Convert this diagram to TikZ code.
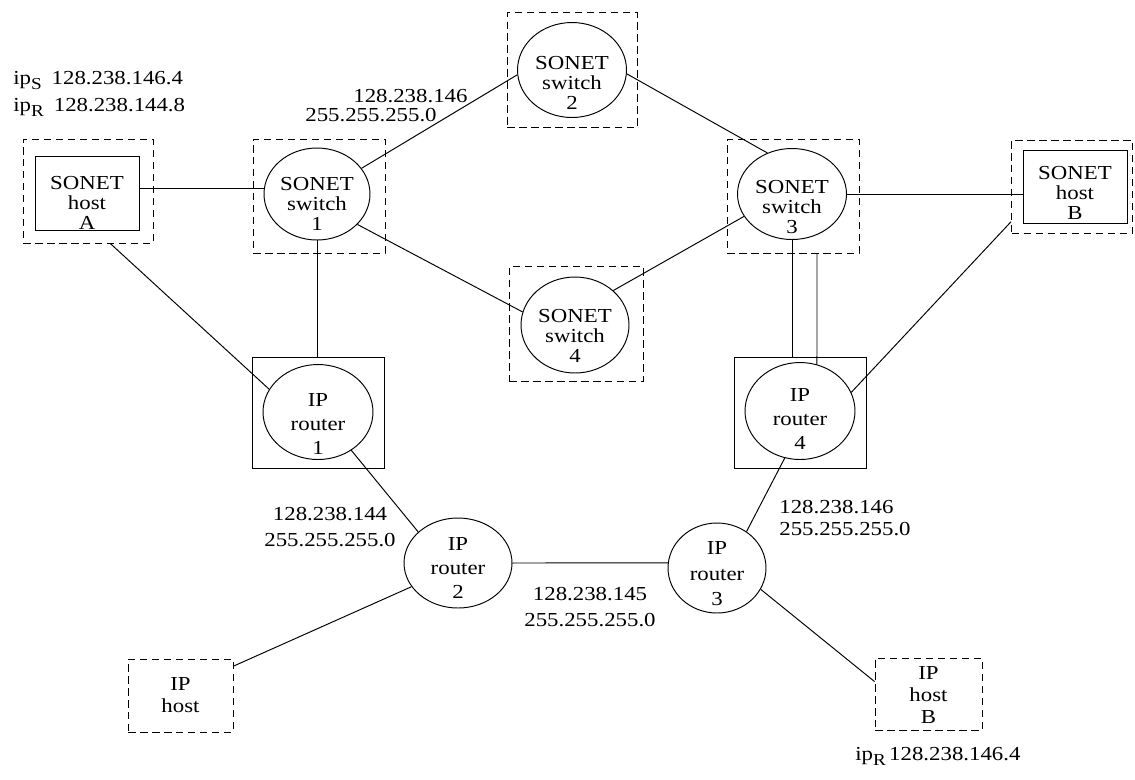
\documentclass[tikz,border=0pt]{standalone}
\usepackage{fontspec}
\setmainfont[FakeStretch=1.15]{Liberation Serif}
\usetikzlibrary{shapes.geometric, positioning}

\newcommand{\ipsub}[1]{\raisebox{-0.55ex}{\fontsize{9.5}{9.5}\selectfont #1}}

\tikzset{
  sw/.style={ellipse, draw, inner sep=0pt, line width=0.55pt},
  sbox/.style={rectangle, draw, inner sep=0pt, line width=0.55pt},
  dbox/.style={rectangle, draw, inner sep=0pt, line width=0.55pt, dash pattern=on 0.15cm off 0.09cm},
  txt/.style={align=center, inner sep=0pt, font=\fontsize{11.3}{11.5}\selectfont},
  lbl/.style={inner sep=0pt, font=\fontsize{11.3}{14.7}\selectfont},
  link/.style={line width=0.55pt}
}

\begin{document}
\begin{tikzpicture}[x=0.02cm, y=-0.02cm]
  \useasboundingbox (0,0) rectangle (1135,779);

  % 1. SONET host A, B
  \node[dbox, minimum width=2.6cm, minimum height=2.08cm] (hAd) at (88,191) {};
  \node[sbox, minimum width=2.08cm, minimum height=1.48cm] (hA) at (87,193) {};
  \node[txt] (hAt) at ([yshift=-0.2cm]hA) {SONET\\host\\A};
  \node[dbox, minimum width=2.42cm, minimum height=1.86cm] (hBd) at (1072,186.5) {};
  \node[sbox, minimum width=2.08cm, minimum height=1.46cm] (hB) at (1075,186.5) {};
  \node[txt] (hBt) at ([yshift=-0.13cm]hB) {SONET\\host\\B};

  % 2. SONET switch 1..4
  \node[dbox, minimum width=2.64cm, minimum height=2.28cm] (s1d) at (319,196) {};
  \node[sw, minimum width=2.12cm, minimum height=1.84cm] (s1) at (317,194) {};
  \node[txt] (s1t) at ([yshift=-0.2cm]s1) {SONET\\switch\\1};
  \node[dbox, minimum width=2.6cm, minimum height=2.3cm] (s2d) at (572,70) {};
  \node[sw, minimum width=2.18cm, minimum height=1.9cm] (s2) at (572,70) {};
  \node[txt] (s2t) at ([yshift=-0.26cm]s2) {SONET\\switch\\2};
  \node[dbox, minimum width=2.64cm, minimum height=2.28cm] (s3d) at (793,196) {};
  \node[sw, minimum width=2.18cm, minimum height=1.82cm] (s3) at (792,194) {};
  \node[txt] (s3t) at ([yshift=-0.26cm]s3) {SONET\\switch\\3};
  \node[dbox, minimum width=2.68cm, minimum height=2.3cm] (s4d) at (576,324) {};
  \node[sw, minimum width=2.16cm, minimum height=1.92cm] (s4) at (575,325) {};
  \node[txt] (s4t) at ([yshift=-0.22cm]s4) {SONET\\switch\\4};

  % 3. IP router 1..4
  \node[sbox, minimum width=2.64cm, minimum height=2.22cm] (r1b) at (318,412.5) {};
  \node[sw, minimum width=2.2cm, minimum height=1.9cm] (r1) at (318,412) {};
  \node[txt, font=\fontsize{11.3}{13.5}\selectfont] (r1t) at ([yshift=-0.24cm]r1) {IP\\router\\1};
  \node[sbox, minimum width=2.64cm, minimum height=2.22cm] (r4b) at (800,412.5) {};
  \node[sw, minimum width=2.2cm, minimum height=1.94cm] (r4) at (800,411) {};
  \node[txt, font=\fontsize{11.3}{13.5}\selectfont] (r4t) at ([yshift=-0.16cm]r4) {IP\\router\\4};
  \node[sw, minimum width=2.16cm, minimum height=1.8cm] (r2) at (458,563) {};
  \node[txt, font=\fontsize{11.3}{13.5}\selectfont] (r2t) at ([yshift=-0.1cm]r2) {IP\\router\\2};
  \node[sw, minimum width=1.96cm, minimum height=1.8cm] (r3) at (717,568) {};
  \node[txt, font=\fontsize{11.3}{14.5}\selectfont] (r3t) at ([yshift=-0.12cm]r3) {IP\\router\\3};

  % 4. IP host
  \node[dbox, minimum width=2.1cm, minimum height=1.46cm] (ipH) at (180.5,695.5) {};
  \node[txt, font=\fontsize{11.3}{12.5}\selectfont] (ipHt) at (ipH) {IP\\host};
  \node[dbox, minimum width=2.14cm, minimum height=1.44cm] (ipB) at (928.5,694) {};
  \node[txt, font=\fontsize{11.3}{12.5}\selectfont] (ipBt) at ([yshift=-0.02cm]ipB) {IP\\host\\B};

  % 5. Ket noi
  \draw[link] (hA.east |- s1.174) -- (s1.174);
  \draw[link] (s1.30) -- (s2.185);
  \draw[link] (s2.356) -- (s3.121);
  \draw[link] (s1.323) -- (s4.166);
  \draw[link] (s4.42) -- (s3.205);
  \draw[link] (s3.east) -- (s3.east -| hB.west);
  \draw[link] (s1.south) -- (s1.south |- r1b.north);
  \draw[link] (hAd.293) -- (r1.155);
  \draw[link] (r1.311) -- (r2.142);
  \draw[link] (r2.east) -- (r3.174);
  \draw[link] (r2.207) -- (ipH.29);
  \draw[link] (r3.51) -- (r4.252);
  \draw[link] (r3.334) -- (ipB.167);
  \draw[link] (s3.south) -- (s3.south |- r4b.north);
  \draw[link] ([xshift=0.48cm]s3d.south) -- (r4.70);
  \draw[link] (r4.20) -- (hBd.210);

  % 6. Dia chi
  \node[lbl, align=left, anchor=west, font=\fontsize{11.3}{15.3}\selectfont] (ipA) at (13,94)
    {ip\ipsub{S}\enspace 128.238.146.4\\ip\ipsub{R}\enspace 128.238.144.8};
  \node[lbl, align=left, anchor=west, font=\fontsize{11.3}{10.8}\selectfont] (n146) at (305,106)
    {\hspace*{0.96cm}128.238.146\\255.255.255.0};
  \node[lbl, align=center] (n144) at (330,527) {128.238.144\\255.255.255.0};
  \node[lbl, align=center] (n145) at (590,607) {128.238.145\\255.255.255.0};
  \node[lbl, align=left, anchor=west, font=\fontsize{11.3}{12}\selectfont] (n146b) at (779,518) {128.238.146\\255.255.255.0};
  \node[lbl, anchor=base west] (ipR) at (855,760) {ip\ipsub{R}\,128.238.146.4};
\end{tikzpicture}
\end{document}
